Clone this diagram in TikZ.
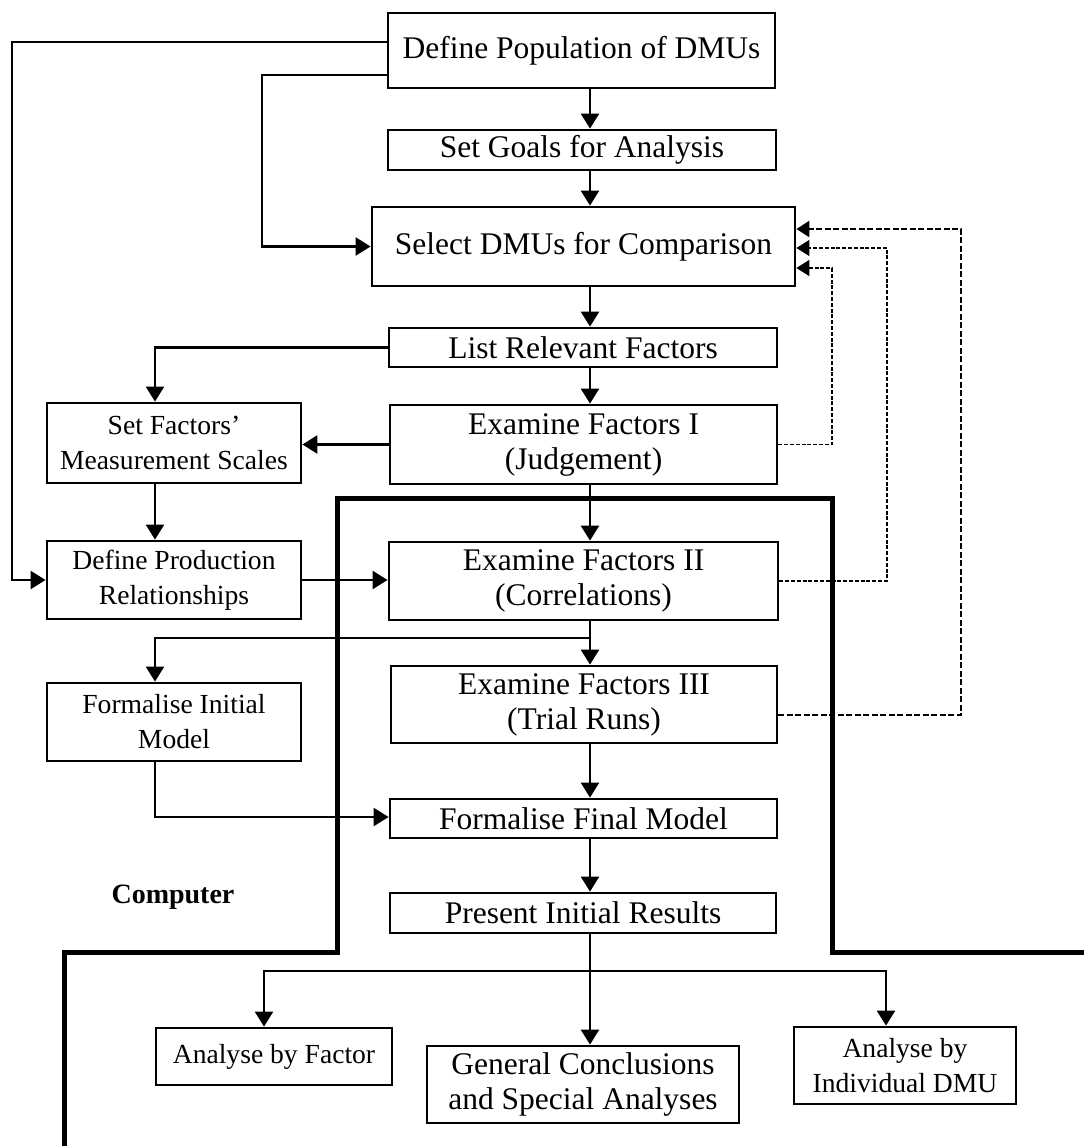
\documentclass[tikz,border=0pt]{standalone}
\usepackage{fontspec}
\setmainfont{Liberation Serif}
\usetikzlibrary{arrows.meta}
\begin{document}
\begin{tikzpicture}[x=1pt,y=-1pt,
  box/.style={draw, line width=2.8pt, inner sep=0pt, align=center},
  bigtxt/.style={font=\fontsize{31.5}{35}\selectfont},
  smalltxt/.style={font=\fontsize{27.6}{35}\selectfont},
  link/.style={line width=2.4pt, -{Triangle[length=15pt,width=18pt]}},
  plain/.style={line width=2.4pt},
  fb/.style={line width=1.6pt, dash pattern=on 4pt off 1.8pt, -{Triangle[length=13pt,width=16pt]}},
  fbheavy/.style={line width=2.4pt, dash pattern=on 6pt off 2.5pt, -{Triangle[length=13pt,width=16pt]}},
  border/.style={line width=5pt}]
\useasboundingbox (0,0) rectangle (1084,1146);

% process boxes
\node[box,bigtxt,minimum width=387pt,minimum height=75pt] (pop) at (581.5,50.5) {Define Population of DMUs};
\node[box,bigtxt,minimum width=388pt,minimum height=40pt] (goals) at (582,150) {Set Goals for Analysis};
\node[box,bigtxt,minimum width=423pt,minimum height=79pt] (sel) at (583.5,246.5) {Select DMUs for Comparison};
\node[box,bigtxt,minimum width=388pt,minimum height=39pt] (list) at (583,347.5) {List Relevant Factors};
\node[box,bigtxt,minimum width=387pt,minimum height=79pt] (ex1) at (583.5,444.5) {Examine Factors I\\(Judgement)};
\node[box,smalltxt,minimum width=254pt,minimum height=80pt] (sf) at (174,443) {Set Factors’\\Measurement Scales};
\node[box,smalltxt,minimum width=254pt,minimum height=78pt] (dpr) at (174,580) {Define Production\\Relationships};
\node[box,bigtxt,minimum width=389pt,minimum height=78pt] (ex2) at (583.5,581) {Examine Factors II\\(Correlations)};
\node[box,bigtxt,minimum width=386pt,minimum height=77pt] (ex3) at (584,704.5) {Examine Factors III\\(Trial Runs)};
\node[box,smalltxt,minimum width=254pt,minimum height=78pt] (fi) at (174,722) {Formalise Initial\\Model};
\node[box,bigtxt,minimum width=387pt,minimum height=39pt] (ff) at (583.5,818.5) {Formalise Final Model};
\node[box,bigtxt,minimum width=386pt,minimum height=40pt] (pres) at (583,913) {Present Initial Results};
\node[box,smalltxt,minimum width=236pt,minimum height=57pt] (abf) at (274,1056.5) {Analyse by Factor};
\node[box,bigtxt,minimum width=312pt,minimum height=77pt] (gc) at (583,1084.5) {General Conclusions\\and Special Analyses};
\node[box,smalltxt,minimum width=222pt,minimum height=77pt] (adm) at (905,1065.5) {Analyse by\\Individual DMU};

\node[font=\fontsize{28}{32}\selectfont\bfseries] (comp) at (173,897) {Computer};

% routing coordinates
\coordinate (spine) at (590,0);
\coordinate (lcol) at (155,0);
\coordinate (ya) at (0,42);
\coordinate (yb) at (0,75);
\coordinate (farL) at (12,0);
\coordinate (midL) at (262,0);
\coordinate (jn) at (590,638);
\coordinate (fiturn) at (155,817);
\coordinate (split) at (590,971);
\coordinate (abfx) at (264,0);
\coordinate (admx) at (886,0);
\coordinate (r1) at (832,268);
\coordinate (r2) at (887,248);
\coordinate (r3) at (961,229);
\coordinate (e3y) at (0,715);

% main spine
\draw[link] (pop.south -| spine) -- (goals.north -| spine);
\draw[link] (goals.south -| spine) -- (sel.north -| spine);
\draw[link] (sel.south -| spine) -- (list.north -| spine);
\draw[link] (list.south -| spine) -- (ex1.north -| spine);
\draw[link] (ex1.south -| spine) -- (ex2.north -| spine);
\draw[plain] (ex2.south -| spine) -- (jn);
\draw[link] (jn) -- (ex3.north -| spine);
\draw[link] (ex3.south -| spine) -- (ff.north -| spine);
\draw[link] (ff.south -| spine) -- (pres.north -| spine);
\draw[link] (pres.south -| spine) -- (gc.north -| spine);

% left-hand branches
\draw[link] (pop.west |- ya) -| (farL |- dpr.west) -- (dpr.west);
\draw[link] (pop.west |- yb) -| (midL |- sel.west) -- (sel.west);
\draw[link] (list.west) -| (sf.north -| lcol);
\draw[link] (ex1.west) -- (ex1.west -| sf.east);
\draw[link] (sf.south -| lcol) -- (dpr.north -| lcol);
\draw[link] (dpr.east) -- (dpr.east -| ex2.west);
\draw[link] (jn) -| (fi.north -| lcol);
\draw[link] (fi.south -| lcol) -- (fiturn) -- (fiturn -| ff.west);

% results split
\draw[link] (split) -| (abf.north -| abfx);
\draw[link] (split) -| (adm.north -| admx);

% feedback loops
\draw[fb] (ex1.east) -| (r1) -- (sel.east |- r1);
\draw[fb] (ex2.east) -| (r2) -- (sel.east |- r2);
\draw[fbheavy] (ex3.east |- e3y) -| (r3) -- (sel.east |- r3);

% computer boundary
\draw[border] (64,1146) -- (64,952) -- (337,952) -- (337,498) -- (832,498) -- (832,952) -- (1084,952);
\end{tikzpicture}
\end{document}
